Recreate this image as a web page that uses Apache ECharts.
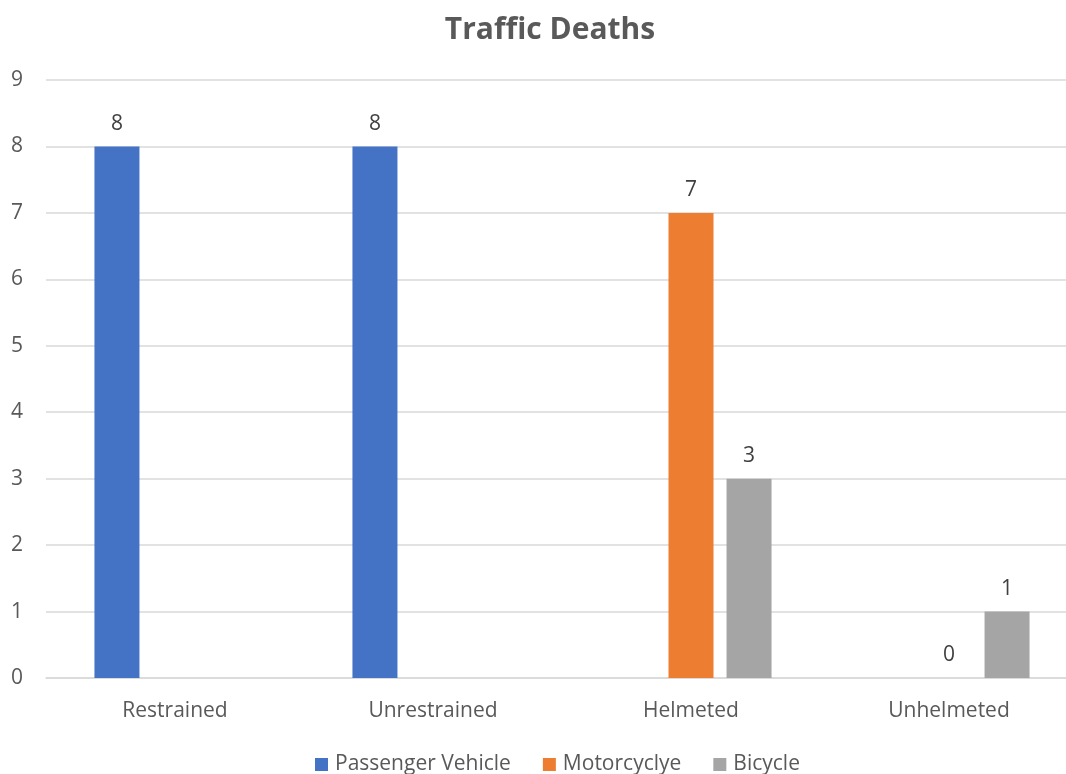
<!DOCTYPE html>
<html><head><meta charset="utf-8">
<script src="https://cdn.jsdelivr.net/npm/echarts@6/dist/echarts.min.js"></script>
<style>html,body{margin:0;padding:0;background:#fff;overflow:hidden}#c{width:1100px;height:774px}</style>
</head><body><div id="c"></div>
<script>
const categories = ['Restrained', 'Unrestrained', 'Helmeted', 'Unhelmeted'];
const passengerVehicle = [8, 8, null, null];
const motorcycle = [null, null, 7, 0];
const bicycle = [null, null, 3, 1];
const yTicks = [0, 1, 2, 3, 4, 5, 6, 7, 8, 9];

const FONT = 'Open Sans';
const label = { show: true, position: 'top', distance: 12, color: '#404040', fontSize: 21, fontFamily: FONT };
const chart = echarts.init(document.getElementById('c'));
chart.setOption({
  animation: false,
  title: { text: 'Traffic Deaths', left: 'center', top: 10, textStyle: { fontFamily: FONT, fontSize: 30, fontWeight: 'bold', color: '#595959' } },
  legend: {
    top: 749, left: 310, itemWidth: 13, itemHeight: 13, itemGap: 32, icon: 'rect',
    textStyle: { fontFamily: FONT, fontSize: 21, color: '#595959', padding: [0, 0, 0, 2] }
  },
  grid: { left: 46, right: 22, top: 80, bottom: 96, containLabel: false },
  xAxis: {
    type: 'category', data: categories,
    axisLine: { lineStyle: { color: '#d9d9d9', width: 1.5 } }, axisTick: { show: false },
    axisLabel: { fontFamily: FONT, fontSize: 21, color: '#595959', margin: 23 }
  },
  yAxis: {
    type: 'value', min: yTicks[0], max: yTicks[yTicks.length - 1], interval: 1,
    axisLine: { show: false }, axisTick: { show: false },
    splitLine: { lineStyle: { color: '#d9d9d9', width: 1.5 } },
    axisLabel: { fontFamily: FONT, fontSize: 21, color: '#595959', margin: 23, align: 'right' }
  },
  series: [
    { name: 'Passenger Vehicle', type: 'bar', data: passengerVehicle, barWidth: 45, barGap: '29%', itemStyle: { color: '#4472C4' }, label },
    { name: 'Motorcyclye', type: 'bar', data: motorcycle, barWidth: 45, barGap: '29%', itemStyle: { color: '#ED7D31' }, label },
    { name: 'Bicycle', type: 'bar', data: bicycle, barWidth: 45, barGap: '29%', itemStyle: { color: '#A5A5A5' }, label }
  ]
});
</script></body></html>
